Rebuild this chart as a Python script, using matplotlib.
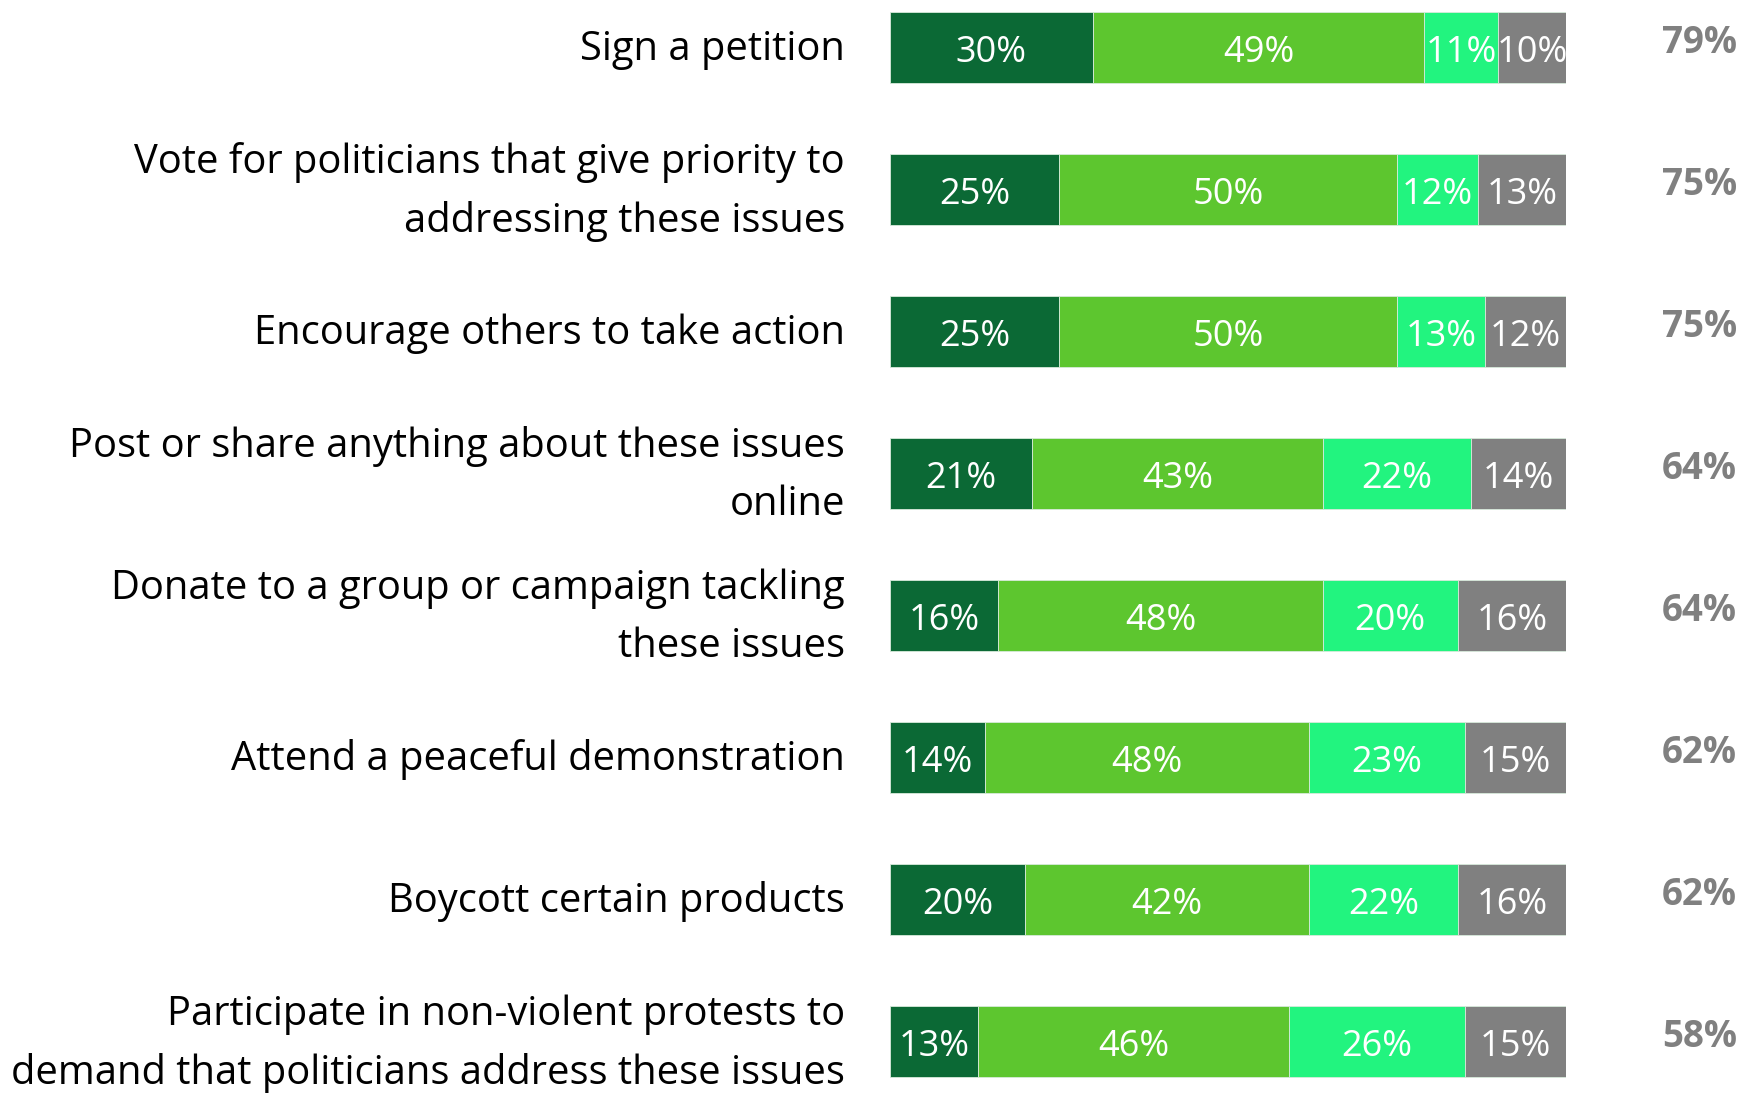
import matplotlib
matplotlib.use("Agg")
import matplotlib.pyplot as plt
import numpy as np

categories = [
    "Sign a petition",
    "Vote for politicians that give priority to\naddressing these issues",
    "Encourage others to take action",
    "Post or share anything about these issues\nonline",
    "Donate to a group or campaign tackling\nthese issues",
    "Attend a peaceful demonstration",
    "Boycott certain products",
    "Participate in non-violent protests to\ndemand that politicians address these issues",
]
seg1 = [30, 25, 25, 21, 16, 14, 20, 13]
seg2 = [49, 50, 50, 43, 48, 48, 42, 46]
seg3 = [11, 12, 13, 22, 20, 23, 22, 26]
seg4 = [10, 13, 12, 14, 16, 15, 16, 15]
totals = [79, 75, 75, 64, 64, 62, 62, 58]

colors = ["#0B6935", "#5DC62F", "#22F47F", "#808080"]

plt.rcParams['font.family'] = ['Open Sans', 'DejaVu Sans']

W, H = 1744, 1093
fig = plt.figure(figsize=(W / 100, H / 100), dpi=100)
left_px, right_px = 890, 1566
ax = fig.add_axes([left_px / W, 0, (right_px - left_px) / W, 1])

y = np.arange(len(categories))
series = [seg1, seg2, seg3, seg4]
base = np.zeros(len(categories))
for vals, col in zip(series, colors):
    vals = np.array(vals, dtype=float)
    ax.barh(y, vals, left=base, height=0.5, color=col,
            edgecolor="#d8eadb", linewidth=0.6)
    for yi, (b, v) in enumerate(zip(base, vals)):
        ax.text(b + v / 2, yi + 0.045, f"{int(v)}%", ha="center", va="center",
                color="white", fontsize=26)
    base += vals

ax.set_xlim(0, 100)
ax.set_ylim(7.366, -0.331)
ax.axis("off")

px_per_unit = (right_px - left_px) / 100.0
label_x = -(left_px - 845) / px_per_unit
total_x = (1737 - left_px) / px_per_unit

for yi, cat in enumerate(categories):
    ax.text(label_x, yi + 0.02, cat, ha="right", va="center", fontsize=28.7,
            color="black", linespacing=1.58, clip_on=False)
    ax.text(total_x, yi - 0.027, f"{totals[yi]}%", ha="right", va="center",
            fontsize=26.5, fontweight="bold", color="#808080", clip_on=False)

fig.savefig("out.png", dpi=100, facecolor="white")
